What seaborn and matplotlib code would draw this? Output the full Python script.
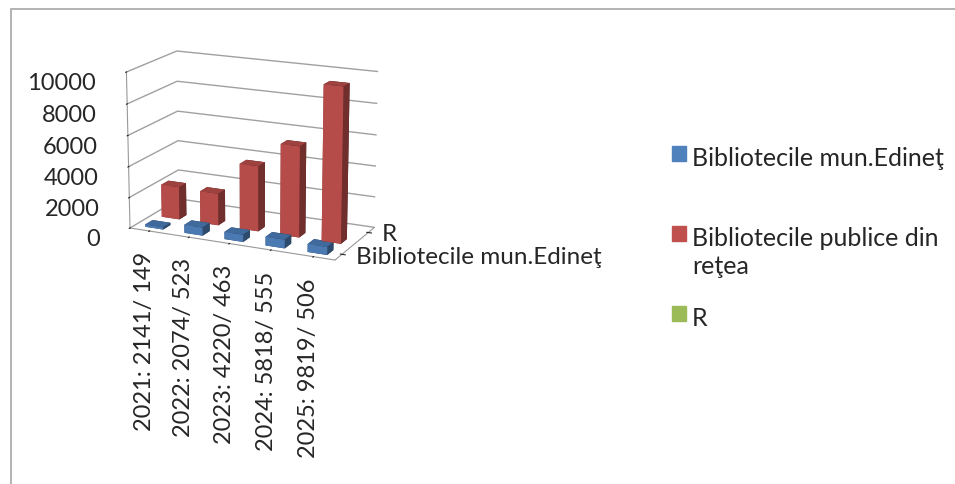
import numpy as np
import matplotlib
matplotlib.use('Agg')
import matplotlib.pyplot as plt
import matplotlib.patches as mpatches
from matplotlib.colors import LightSource
from matplotlib.offsetbox import HPacker
from mpl_toolkits.mplot3d import proj3d
import seaborn as sns

# Data
categories = ['2021: 2141/ 149', '2022: 2074/ 523', '2023: 4220/ 463',
              '2024: 5818/ 555', '2025: 9819/ 506']
series = ['Bibliotecile mun.Edineţ', 'Bibliotecile publice din reţea', 'R']
edinet = [149, 523, 463, 555, 506]
retea = [2141, 2074, 4220, 5818, 9819]
r_vals = [0, 0, 0, 0, 0]
z_ticks = [0, 2000, 4000, 6000, 8000, 10000]
colors = ['#4F81BD', '#C0504D', '#9BBB59']
legend_labels = ['Bibliotecile mun.Edineţ', 'Bibliotecile publice din\nreţea', 'R']

sns.set_style('white')
plt.rcParams['font.family'] = ['Lato', 'DejaVu Sans']

W, H = 955, 485
fig = plt.figure(figsize=(W / 100, H / 100), dpi=100)
ax = fig.add_axes([0.02, 0.2, 0.45, 0.8], projection='3d')

light = LightSource(azdeg=193, altdeg=30)
values = [edinet, retea, r_vals]
xs = np.arange(len(categories))
for i, (name, vals, col) in enumerate(zip(series, values, colors)):
    for j, v in enumerate(vals):
        if v > 0:
            ax.bar3d(xs[j] - 0.23, i - 0.22, 0, 0.46, 0.44, v, color=col,
                     shade=True, lightsource=light, linewidth=0)

ax.set_xlim(-0.5, len(categories) - 0.5)
ax.set_ylim(-0.5, len(series) - 0.5)
ax.set_zlim(0, 10000)
ax.set_zticks(z_ticks)
ax.set_zticklabels([str(t) for t in z_ticks], fontsize=17, ha='right')
ax.set_xticks(xs)
ax.set_xticklabels(categories, rotation=90, fontsize=17, va='top', ha='center')
ax.set_yticks([0, 2])
ax.set_yticklabels([series[0], series[2]], fontsize=17.5, ha='left', va='bottom')
ax.tick_params(axis='z', pad=5)
ax.tick_params(axis='y', pad=-1)
ax.zaxis.set_ticks_position('lower')

for axis in (ax.xaxis, ax.yaxis, ax.zaxis):
    axis.set_pane_color((1, 1, 1, 0))
    axis.pane.set_edgecolor('none')
    axis.line.set_color('#999999')
ax.xaxis._axinfo['grid'].update(linewidth=0)
ax.yaxis._axinfo['grid'].update(linewidth=0)
ax.zaxis._axinfo['grid'].update(color='#A0A0A0', linewidth=1.0)

ax.set_proj_type('persp', focal_length=1.0)
ax.view_init(elev=16, azim=-65)
y_aspect = 1.0
z_aspect = 1.6
ax.set_box_aspect((2.1, y_aspect, z_aspect))


def corner_pixels():
    fig.canvas.draw()
    M = ax.get_proj()
    out = []
    for x, y, z in [(-0.5, -0.5, 0), (4.5, -0.5, 0), (-0.5, -0.5, 10000)]:
        xp, yp, _ = proj3d.proj_transform(x, y, z, M)
        px, py = ax.transData.transform((xp, yp))
        out.append((px, H - py))
    return np.array(out)


# fit the 3D box to the reference layout (front-left, front-right, top-left)
target = np.array([(130, 229), (335, 255), (126, 73)])
for _ in range(4):
    p = corner_pixels()
    ratio = (p[0, 1] - p[2, 1]) / (p[1, 0] - p[0, 0])
    z_aspect *= ((target[0, 1] - target[2, 1]) / (target[1, 0] - target[0, 0])) / ratio
    ax.set_box_aspect((2.1, y_aspect, z_aspect))
    p = corner_pixels()
    s = (target[1, 0] - target[0, 0]) / (p[1, 0] - p[0, 0])
    pos = ax.get_position(original=True)
    cx, cy = pos.x0 + pos.width / 2, pos.y0 + pos.height / 2
    w, h = pos.width * s, pos.height * s
    ax.set_position([cx - w / 2, cy - h / 2, w, h])
    p = corner_pixels()
    dx = (target[0, 0] - p[0, 0]) / W
    dy = -(target[0, 1] - p[0, 1]) / H
    pos = ax.get_position(original=True)
    ax.set_position([pos.x0 + dx, pos.y0 + dy, pos.width, pos.height])

# legend entries placed one by one, like the reference
legend_y = [155, 235, 315]
for col, lab, y in zip(colors, legend_labels, legend_y):
    leg = fig.legend([mpatches.Patch(color=col)], [lab], loc='upper left',
                     bbox_to_anchor=(0.68, 1 - (y - 31) / H), frameon=False,
                     fontsize=18, handlelength=0.55, handleheight=0.55,
                     handletextpad=0.25)
    for t in leg.get_texts():
        t.set_linespacing(1.3)
    for hp in leg.findobj(HPacker):
        hp.align = 'top'

fig.add_artist(mpatches.Rectangle((11 / W, -0.1), 2, 1.1 - 10 / H,
                                  transform=fig.transFigure, fill=False,
                                  edgecolor='#A6A6A6', linewidth=1.2))

fig.savefig('out.png', dpi=100)
